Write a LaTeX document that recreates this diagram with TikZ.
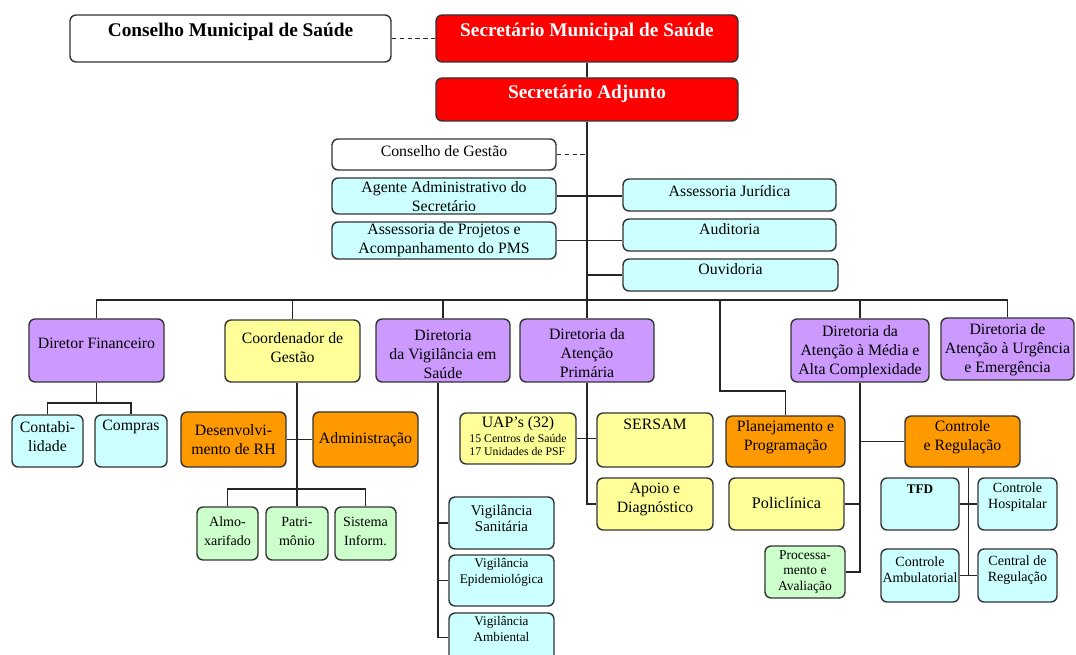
\documentclass[tikz,border=0pt]{standalone}
\usepackage{fontspec}
\setmainfont{Liberation Serif}
\usetikzlibrary{fit,calc}
\definecolor{cred}{HTML}{FF0000}
\definecolor{ccyan}{HTML}{CCFFFF}
\definecolor{cpurple}{HTML}{CC99FF}
\definecolor{cyellow}{HTML}{FFFF99}
\definecolor{corange}{HTML}{FF9900}
\definecolor{cgreen}{HTML}{CCFFCC}
\newcommand\bx[9]{%
  \node[box,#2,fit={(#3,#4) (#5,#6)}] (#1) {};
  \node[txt,#8] (#1-t) at ({(#3+#5)/2},#7) {#9};}
\begin{document}
\begin{tikzpicture}[x=0.02cm,y=-0.02cm,
  box/.style={draw=black!80, line width=0.8pt, rounded corners=3.5pt, inner sep=0pt},
  txt/.style={align=center, inner sep=0pt},
  link/.style={draw=black!85, line width=0.7pt},
  dlink/.style={link, dash pattern=on 2.5pt off 2pt},
  tb/.style={font=\bfseries\fontsize{11}{13}\selectfont},
  tbw/.style={tb, text=white},
  t10/.style={font=\fontsize{9.2}{11}\selectfont},
  t9/.style={font=\fontsize{9}{10.8}\selectfont},
  t85/.style={font=\fontsize{8.5}{9.2}\selectfont},
  t8/.style={font=\fontsize{8}{10.8}\selectfont},
  t8s/.style={font=\fontsize{8}{9}\selectfont},
  t77/.style={font=\fontsize{7.7}{9}\selectfont},
  t75/.style={font=\fontsize{7.5}{9}\selectfont},
  t7b/.style={font=\bfseries\fontsize{7.5}{9}\selectfont}]
\useasboundingbox (0,0) rectangle (1076,655);

% top level
\bx{cms}{fill=white}{70}{15}{391}{62}{32}{tb}{Conselho Municipal de Saúde}
\bx{sms}{fill=cred}{436}{15}{738}{62}{32}{tbw}{Secretário Municipal de Saúde}
\bx{sa}{fill=cred}{436}{78}{738}{121}{94}{tbw}{Secretário Adjunto}

% staff
\bx{cg}{fill=white}{332}{139}{556}{170}{151}{t9}{Conselho de Gestão}
\bx{aga}{fill=ccyan}{332}{178}{556}{214}{197}{t9}{Agente Administrativo do\\Secretário}
\bx{ap}{fill=ccyan}{332}{222}{556}{259}{240}{t9}{Assessoria de Projetos e\\Acompanhamento do PMS}
\bx{aj}{fill=ccyan}{623}{179}{836}{211}{191}{t9}{Assessoria Jurídica}
\bx{aud}{fill=ccyan}{623}{219}{836}{251}{229}{t9}{Auditoria}
\bx{ouv}{fill=ccyan}{623}{259}{838}{291}{269}{t9}{Ouvidoria}

% directors
\bx{df}{fill=cpurple}{29}{319}{164}{382}{343}{t9}{Diretor Financeiro}
\bx{cdg}{fill=cyellow}{225}{320}{360}{382}{348}{t9}{Coordenador de\\Gestão}
\bx{dvs}{fill=cpurple}{376}{319}{510}{382}{354}{t9}{Diretoria\\da Vigilância em\\Saúde}
\bx{dap}{fill=cpurple}{520}{319}{654}{382}{353}{t9}{Diretoria da\\Atenção\\Primária}
\bx{dma}{fill=cpurple}{791}{319}{929}{382}{352}{t9}{Diretoria da\\Atenção à Média e\\Alta Complexidade}
\bx{due}{fill=cpurple}{941}{318}{1074}{380}{350}{t9}{Diretoria de\\Atenção à Urgência\\e Emergência}

% lower level
\bx{cont}{fill=ccyan}{12}{415}{83}{467}{437}{t9}{Contabi-\\lidade}
\bx{comp}{fill=ccyan}{95}{415}{167}{467}{427}{t9}{Compras}
\bx{drh}{fill=corange}{181}{412}{286}{467}{440}{t9}{Desenvolvi-\\mento de RH}
\bx{adm}{fill=corange}{313}{412}{418}{467}{440}{t9}{Administração}
\bx{alm}{fill=cgreen}{197}{507}{258}{560}{531}{t8}{Almo-\\xarifado}
\bx{pat}{fill=cgreen}{266}{507}{328}{560}{531}{t8}{Patri-\\mônio}
\bx{sis}{fill=cgreen}{335}{507}{396}{560}{531}{t8}{Sistema\\Inform.}
\bx{vsan}{fill=ccyan}{449}{497}{554}{549}{518}{t85}{Vigilância\\Sanitária}
\bx{vepi}{fill=ccyan}{449}{555}{554}{606}{572}{t75}{Vigilância\\Epidemiológica}
\bx{vamb}{fill=ccyan}{449}{613}{554}{662}{629}{t75}{Vigilância\\Ambiental}
\bx{uap}{fill=cyellow}{460}{413}{576}{464}{438}{t9}{\begin{tabular}{@{}l@{}}\multicolumn{1}{@{}c@{}}{UAP’s (32)}\\[-2.5pt]{\fontsize{6.7}{7.4}\selectfont 15 Centros de Saúde}\\[-3pt]{\fontsize{6.7}{7.4}\selectfont 17 Unidades de PSF}\end{tabular}}
\bx{sersam}{fill=cyellow}{597}{413}{713}{467}{424}{t9}{SERSAM}
\bx{apoio}{fill=cyellow}{597}{478}{713}{530}{499}{t9}{Apoio e\\Diagnóstico}
\bx{plan}{fill=corange}{726}{416}{845}{467}{437}{t9}{Planejamento e\\Programação}
\bx{pol}{fill=cyellow}{729}{478}{844}{530}{503}{t10}{Policlínica}
\bx{proc}{fill=cgreen}{765}{546}{845}{598}{572}{t77}{Processa-\\mento e\\Avaliação}
\bx{cr}{fill=corange}{905}{416}{1020}{467}{437}{t9}{Controle\\e Regulação}
\bx{tfd}{fill=ccyan}{881}{478}{959}{530}{489}{t7b}{TFD}
\bx{ch}{fill=ccyan}{978}{478}{1057}{530}{497}{t8s}{Controle\\Hospitalar}
\bx{ca}{fill=ccyan}{881}{549}{959}{602}{570}{t8s}{Controle\\Ambulatorial}
\bx{crg}{fill=ccyan}{978}{549}{1057}{602}{570}{t8s}{Central de\\Regulação}

% coordinates
\coordinate (bus) at (0,300);
\coordinate (pbend) at (720,391);
\coordinate (dfbar) at (0,403);
\coordinate (cbar) at (0,489);
\coordinate (vx) at (438,0);
\coordinate (gx) at ($(tfd.east)!0.5!(ch.west)$);

% top connectors
\draw[dlink] (cms.east |- sms.west) -- (sms.west);
\draw[link] (sms.south) -- (sa.north);
\draw[link] (sa.south) -- (sa.south |- bus);
\draw[dlink] (cg.east) -- (cg.east -| sa.south);
\draw[link] (aga.east) -- (aga.east -| aj.west);
\draw[link] (ap.east) -- (ap.east -| aud.west);
\draw[link] (ouv.west) -- (ouv.west -| sa.south);

% bus
\draw[link] (df.north) -- (df.north |- bus) -- (due.north |- bus) -- (due.north);
\draw[link] (cdg.north) -- (cdg.north |- bus);
\draw[link] (dvs.north) -- (dvs.north |- bus);
\draw[link] (dap.north) -- (dap.north |- bus);
\draw[link] (dma.north) -- (dma.north |- bus);
\draw[link] (pbend |- bus) -- (pbend) -| (plan.north);

% financeiro
\draw[link] (df.south) -- (df.south |- dfbar);
\draw[link] (cont.north) -- (cont.north |- dfbar) -- (comp.north |- dfbar) -- (comp.north);

% coordenador
\draw[link] (pat.north |- cdg.south) -- (pat.north);
\draw[link] (drh.east) -- (drh.east -| adm.west);
\draw[link] (alm.north) -- (alm.north |- cbar) -- (sis.north |- cbar) -- (sis.north);

% vigilancia
\draw[link] (vx |- dvs.south) -- (vx |- vamb.west) -- (vamb.west);
\draw[link] (vsan.west) -- (vsan.west -| vx);
\draw[link] (vepi.west) -- (vepi.west -| vx);

% atencao primaria
\draw[link] (dap.south) |- (apoio.west);
\draw[link] (uap.east) -- (uap.east -| sersam.west);

% media e alta
\draw[link] (dma.south) |- (proc.east);
\draw[link] (pol.east) -- (pol.east -| dma.south);
\draw[link] (cr.west) -- (cr.west -| dma.south);

% controle e regulacao
\draw[link] (gx |- cr.south) -- (gx |- ca.east);
\draw[link] (tfd.east) -- (tfd.east -| ch.west);
\draw[link] (ca.east) -- (ca.east -| crg.west);
\end{tikzpicture}
\end{document}
